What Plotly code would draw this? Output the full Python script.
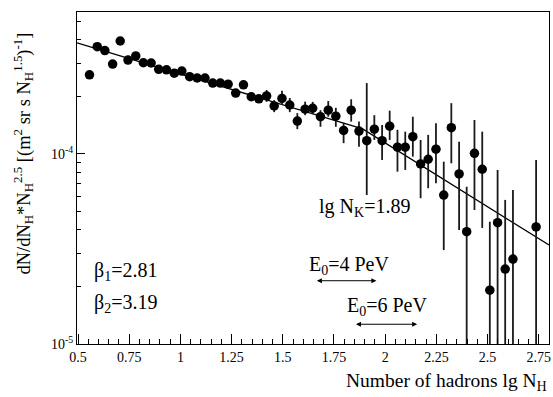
import plotly.graph_objects as go

# ---- data ----
lg_nh = [0.556, 0.594, 0.631, 0.669, 0.706, 0.744, 0.782, 0.819, 0.857, 0.894,
         0.932, 0.970, 1.007, 1.045, 1.082, 1.120, 1.158, 1.195, 1.233, 1.270,
         1.308, 1.346, 1.383, 1.421, 1.458, 1.496, 1.534, 1.571, 1.609, 1.646,
         1.684, 1.722, 1.759, 1.797, 1.834, 1.872, 1.910, 1.947, 1.985, 2.022,
         2.060, 2.098, 2.135, 2.173, 2.210, 2.248, 2.286, 2.323, 2.361, 2.398,
         2.436, 2.474, 2.511, 2.549, 2.586, 2.624, 2.737]

# flux values in units of 1e-4
flux_e4 = [2.61, 3.67, 3.50, 2.97, 3.93, 3.12, 3.28, 3.02, 3.01, 2.79,
           2.77, 2.66, 2.73, 2.55, 2.51, 2.51, 2.36, 2.36, 2.33, 2.09,
           2.31, 2.00, 1.95, 2.02, 1.79, 1.96, 1.81, 1.49, 1.72, 1.74,
           1.57, 1.70, 1.58, 1.33, 1.70, 1.32, 1.175, 1.35, 1.175, 1.40,
           1.085, 1.085, 1.233, 0.886, 0.938, 1.059, 0.608, 1.375, 0.785, 0.390,
           1.008, 0.831, 0.192, 0.435, 0.248, 0.280, 0.413]

# upper / lower ends of error bars (units of 1e-4); None = hidden by marker
err_top_e4 = [None] * 23 + [2.17, 1.92, 2.15, 1.97, 1.64, 1.885, 1.88,
              1.70, 1.90, 1.75, 1.46, 1.94, 1.48, 2.36, 1.60, 1.42, 1.69,
              1.34, 1.31, 1.57, 1.185, 1.26, 1.45, 0.911, 1.85, 1.16, 0.673,
              1.51, 1.31, 0.440, 0.824, 0.573, 0.646, 0.930]
err_bot_e4 = [None] * 23 + [1.88, 1.66, 1.81, 1.66, 1.35, 1.60, 1.62,
              1.39, 1.57, 1.39, 1.14, 1.48, 1.09, 0.608, 1.185, 0.930, 1.185,
              0.807, 0.824, 0.968, 0.585, 0.660, 0.701, 0.312, 0.893, 0.398, 0.03,
              0.507, 0.408, 0.03, 0.03, 0.03, 0.03, 0.03]

# broken power-law fit (knee at lg N_K = 1.89)
fit_x = [0.495, 1.89, 2.80]
fit_y = [3.84e-4, 1.355e-4, 3.32e-5]

x_ticks = [0.5, 0.75, 1, 1.25, 1.5, 1.75, 2, 2.25, 2.5, 2.75]
x_ticktext = ["0.5", "0.75", "1", "1.25", "1.5", "1.75", "2", "2.25", "2.5", "2.75"]

e0_4pev = [1.659, 1.957]
e0_6pev = [1.850, 2.156]

# ---- derived ----
y = [v * 1e-4 for v in flux_e4]
up = [0 if t is None else t * 1e-4 - v for t, v in zip(err_top_e4, y)]
dn = [0 if b is None else v - b * 1e-4 for b, v in zip(err_bot_e4, y)]

FONT = "Liberation Serif"

fig = go.Figure()
fig.add_trace(go.Scatter(
    x=fit_x, y=fit_y, mode="lines",
    line=dict(color="black", width=1.3), showlegend=False, hoverinfo="skip"))
fig.add_trace(go.Scatter(
    x=lg_nh, y=y, mode="markers",
    marker=dict(color="black", size=9.5),
    error_y=dict(type="data", symmetric=False, array=up, arrayminus=dn,
                 color="#1a1a1a", thickness=1.8, width=0),
    showlegend=False))

minor_y = [k * 1e-5 for k in range(2, 10)] + [k * 1e-4 for k in range(2, 6)]

fig.update_layout(
    width=553, height=397,
    margin=dict(l=77, r=4, t=12, b=53, autoexpand=False),
    paper_bgcolor="white", plot_bgcolor="white",
    font=dict(family=FONT, size=14, color="black"),
    xaxis=dict(range=[0.495, 2.80], tickvals=x_ticks, ticktext=x_ticktext,
               ticks="inside", ticklen=10, tickwidth=1, tickcolor="black",
               minor=dict(dtick=0.05, ticks="inside", ticklen=5, tickcolor="black"),
               showline=True, linecolor="black", linewidth=1, mirror=True,
               showgrid=False, zeroline=False, automargin=False,
               tickfont=dict(family=FONT, size=14)),
    yaxis=dict(type="log", range=[-5, -3.253],
               tickvals=[1e-5, 1e-4], ticktext=["10<sup>-5</sup>", "10<sup>-4</sup>"],
               ticks="inside", ticklen=8, tickcolor="black",
               minor=dict(tickvals=minor_y, ticks="inside", ticklen=4, tickcolor="black"),
               showline=True, linecolor="black", linewidth=1, mirror=True,
               showgrid=False, zeroline=False, automargin=False,
               tickfont=dict(family=FONT, size=14)),
)

fig.add_annotation(xref="paper", yref="paper", x=1.0, y=-0.114,
                   xanchor="right", yanchor="middle", showarrow=False,
                   text="Number of hadrons lg N<sub>H</sub>", font=dict(family=FONT, size=19.5))
fig.add_annotation(xref="paper", yref="paper", x=-0.114, y=0.574,
                   xanchor="center", yanchor="middle", showarrow=False, textangle=-90,
                   text="dN/dN<sub>H</sub>*N<sub>H</sub><sup>2.5</sup> [(m<sup>2</sup> sr s N<sub>H</sub><sup>1.5</sup>)<sup>-1</sup>]",
                   font=dict(family=FONT, size=18.5))

def ann(x, ylog, text, size=20):
    fig.add_annotation(x=x, y=ylog, xref="x", yref="y", text=text, showarrow=False,
                       xanchor="left", yanchor="middle", font=dict(family=FONT, size=size))

ann(0.569, -4.62, "β<sub>1</sub>=2.81")
ann(0.569, -4.785, "β<sub>2</sub>=3.19")
ann(1.667, -4.284, "lg N<sub>K</sub>=1.89")
ann(1.619, -4.589, "E<sub>0</sub>=4 PeV")
ann(1.806, -4.804, "E<sub>0</sub>=6 PeV")

for (a, b), ylog in [(e0_4pev, -4.667), (e0_6pev, -4.896)]:
    fig.add_annotation(x=b, y=ylog, ax=a, ay=ylog, xref="x", yref="y", axref="x", ayref="y",
                       text="", showarrow=True, arrowhead=2, arrowsize=1, arrowwidth=1,
                       startarrowhead=2, arrowside="end+start", startarrowsize=1,
                       arrowcolor="black")

fig.write_html("out.html", config={"displayModeBar": False},
               post_script="document.body.style.margin='0';")
